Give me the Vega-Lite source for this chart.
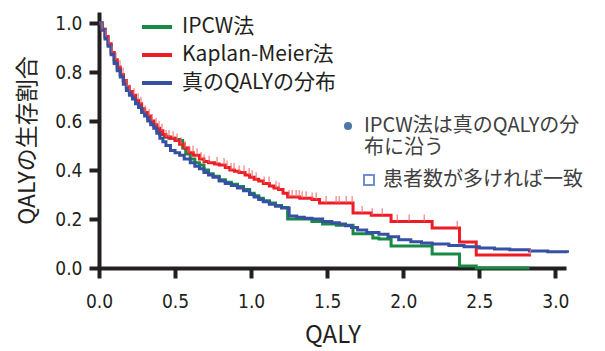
{
  "$schema": "https://vega.github.io/schema/vega-lite/v6.json",
  "width": 467,
  "height": 256,
  "autosize": {"type": "none"},
  "padding": {"left": 99, "top": 12, "right": 39, "bottom": 83},
  "background": "white",
  "config": {
    "view": {"stroke": null},
    "font": "Noto Sans CJK JP",
    "axis": {
      "grid": false,
      "domainWidth": 4,
      "domainColor": "#231f20",
      "tickWidth": 4,
      "tickSize": 10,
      "tickColor": "#231f20",
      "labelFont": "Liberation Sans Narrow, DejaVu Sans Condensed, sans-serif",
      "labelFontSize": 19,
      "labelColor": "#231f20",
      "labelFlush": false,
      "labelOverlap": false,
      "titleFont": "Noto Sans CJK JP",
      "titleFontWeight": "normal",
      "titleColor": "#231f20"
    }
  },
  "datasets": {
    "curves": [
      {"method": "IPCW法", "qaly": 0, "surv": 1.0},
      {"method": "IPCW法", "qaly": 0.02, "surv": 0.975},
      {"method": "IPCW法", "qaly": 0.04, "surv": 0.94},
      {"method": "IPCW法", "qaly": 0.06, "surv": 0.91},
      {"method": "IPCW法", "qaly": 0.08, "surv": 0.875},
      {"method": "IPCW法", "qaly": 0.10, "surv": 0.84},
      {"method": "IPCW法", "qaly": 0.12, "surv": 0.81},
      {"method": "IPCW法", "qaly": 0.14, "surv": 0.785},
      {"method": "IPCW法", "qaly": 0.16, "surv": 0.76},
      {"method": "IPCW法", "qaly": 0.18, "surv": 0.735},
      {"method": "IPCW法", "qaly": 0.20, "surv": 0.715},
      {"method": "IPCW法", "qaly": 0.22, "surv": 0.70},
      {"method": "IPCW法", "qaly": 0.24, "surv": 0.68},
      {"method": "IPCW法", "qaly": 0.26, "surv": 0.665},
      {"method": "IPCW法", "qaly": 0.28, "surv": 0.645},
      {"method": "IPCW法", "qaly": 0.30, "surv": 0.63},
      {"method": "IPCW法", "qaly": 0.32, "surv": 0.61},
      {"method": "IPCW法", "qaly": 0.34, "surv": 0.595},
      {"method": "IPCW法", "qaly": 0.36, "surv": 0.58},
      {"method": "IPCW法", "qaly": 0.38, "surv": 0.56},
      {"method": "IPCW法", "qaly": 0.40, "surv": 0.545},
      {"method": "IPCW法", "qaly": 0.43, "surv": 0.535},
      {"method": "IPCW法", "qaly": 0.46, "surv": 0.53},
      {"method": "IPCW法", "qaly": 0.50, "surv": 0.525},
      {"method": "IPCW法", "qaly": 0.53, "surv": 0.52},
      {"method": "IPCW法", "qaly": 0.55, "surv": 0.49},
      {"method": "IPCW法", "qaly": 0.57, "surv": 0.465},
      {"method": "IPCW法", "qaly": 0.60, "surv": 0.445},
      {"method": "IPCW法", "qaly": 0.63, "surv": 0.43},
      {"method": "IPCW法", "qaly": 0.66, "surv": 0.42},
      {"method": "IPCW法", "qaly": 0.69, "surv": 0.40},
      {"method": "IPCW法", "qaly": 0.72, "surv": 0.385},
      {"method": "IPCW法", "qaly": 0.75, "surv": 0.375},
      {"method": "IPCW法", "qaly": 0.79, "surv": 0.36},
      {"method": "IPCW法", "qaly": 0.83, "surv": 0.35},
      {"method": "IPCW法", "qaly": 0.87, "surv": 0.342},
      {"method": "IPCW法", "qaly": 0.91, "surv": 0.333},
      {"method": "IPCW法", "qaly": 0.95, "surv": 0.32},
      {"method": "IPCW法", "qaly": 0.99, "surv": 0.305},
      {"method": "IPCW法", "qaly": 1.02, "surv": 0.295},
      {"method": "IPCW法", "qaly": 1.05, "surv": 0.285},
      {"method": "IPCW法", "qaly": 1.08, "surv": 0.275},
      {"method": "IPCW法", "qaly": 1.12, "surv": 0.265},
      {"method": "IPCW法", "qaly": 1.16, "surv": 0.255},
      {"method": "IPCW法", "qaly": 1.20, "surv": 0.247},
      {"method": "IPCW法", "qaly": 1.24, "surv": 0.20},
      {"method": "IPCW法", "qaly": 1.40, "surv": 0.19},
      {"method": "IPCW法", "qaly": 1.47, "surv": 0.18},
      {"method": "IPCW法", "qaly": 1.56, "surv": 0.175},
      {"method": "IPCW法", "qaly": 1.67, "surv": 0.14},
      {"method": "IPCW法", "qaly": 1.80, "surv": 0.122},
      {"method": "IPCW法", "qaly": 1.84, "surv": 0.118},
      {"method": "IPCW法", "qaly": 1.92, "surv": 0.09},
      {"method": "IPCW法", "qaly": 2.19, "surv": 0.057},
      {"method": "IPCW法", "qaly": 2.37, "surv": 0.008},
      {"method": "IPCW法", "qaly": 2.48, "surv": 0.0},
      {"method": "IPCW法", "qaly": 2.83, "surv": 0.0},

      {"method": "Kaplan-Meier法", "qaly": 0, "surv": 1.0},
      {"method": "Kaplan-Meier法", "qaly": 0.02, "surv": 0.975},
      {"method": "Kaplan-Meier法", "qaly": 0.04, "surv": 0.945},
      {"method": "Kaplan-Meier法", "qaly": 0.06, "surv": 0.915},
      {"method": "Kaplan-Meier法", "qaly": 0.08, "surv": 0.88},
      {"method": "Kaplan-Meier法", "qaly": 0.10, "surv": 0.85},
      {"method": "Kaplan-Meier法", "qaly": 0.12, "surv": 0.82},
      {"method": "Kaplan-Meier法", "qaly": 0.14, "surv": 0.79},
      {"method": "Kaplan-Meier法", "qaly": 0.16, "surv": 0.765},
      {"method": "Kaplan-Meier法", "qaly": 0.18, "surv": 0.74},
      {"method": "Kaplan-Meier法", "qaly": 0.20, "surv": 0.72},
      {"method": "Kaplan-Meier法", "qaly": 0.22, "surv": 0.705},
      {"method": "Kaplan-Meier法", "qaly": 0.24, "surv": 0.685},
      {"method": "Kaplan-Meier法", "qaly": 0.26, "surv": 0.67},
      {"method": "Kaplan-Meier法", "qaly": 0.28, "surv": 0.65},
      {"method": "Kaplan-Meier法", "qaly": 0.30, "surv": 0.635},
      {"method": "Kaplan-Meier法", "qaly": 0.32, "surv": 0.62},
      {"method": "Kaplan-Meier法", "qaly": 0.34, "surv": 0.60},
      {"method": "Kaplan-Meier法", "qaly": 0.36, "surv": 0.585},
      {"method": "Kaplan-Meier法", "qaly": 0.38, "surv": 0.57},
      {"method": "Kaplan-Meier法", "qaly": 0.40, "surv": 0.56},
      {"method": "Kaplan-Meier法", "qaly": 0.42, "surv": 0.545},
      {"method": "Kaplan-Meier法", "qaly": 0.44, "surv": 0.535},
      {"method": "Kaplan-Meier法", "qaly": 0.47, "surv": 0.53},
      {"method": "Kaplan-Meier法", "qaly": 0.50, "surv": 0.52},
      {"method": "Kaplan-Meier法", "qaly": 0.53, "surv": 0.505},
      {"method": "Kaplan-Meier法", "qaly": 0.56, "surv": 0.49},
      {"method": "Kaplan-Meier法", "qaly": 0.59, "surv": 0.47},
      {"method": "Kaplan-Meier法", "qaly": 0.62, "surv": 0.46},
      {"method": "Kaplan-Meier法", "qaly": 0.66, "surv": 0.445},
      {"method": "Kaplan-Meier法", "qaly": 0.69, "surv": 0.435},
      {"method": "Kaplan-Meier法", "qaly": 0.72, "surv": 0.43},
      {"method": "Kaplan-Meier法", "qaly": 0.76, "surv": 0.425},
      {"method": "Kaplan-Meier法", "qaly": 0.79, "surv": 0.42},
      {"method": "Kaplan-Meier法", "qaly": 0.83, "surv": 0.41},
      {"method": "Kaplan-Meier法", "qaly": 0.86, "surv": 0.40},
      {"method": "Kaplan-Meier法", "qaly": 0.89, "surv": 0.395},
      {"method": "Kaplan-Meier法", "qaly": 0.92, "surv": 0.39},
      {"method": "Kaplan-Meier法", "qaly": 0.96, "surv": 0.38},
      {"method": "Kaplan-Meier法", "qaly": 0.99, "surv": 0.37},
      {"method": "Kaplan-Meier法", "qaly": 1.02, "surv": 0.362},
      {"method": "Kaplan-Meier法", "qaly": 1.05, "surv": 0.355},
      {"method": "Kaplan-Meier法", "qaly": 1.08, "surv": 0.345},
      {"method": "Kaplan-Meier法", "qaly": 1.12, "surv": 0.335},
      {"method": "Kaplan-Meier法", "qaly": 1.15, "surv": 0.327},
      {"method": "Kaplan-Meier法", "qaly": 1.18, "surv": 0.32},
      {"method": "Kaplan-Meier法", "qaly": 1.21, "surv": 0.305},
      {"method": "Kaplan-Meier法", "qaly": 1.24, "surv": 0.29},
      {"method": "Kaplan-Meier法", "qaly": 1.32, "surv": 0.285},
      {"method": "Kaplan-Meier法", "qaly": 1.40, "surv": 0.28},
      {"method": "Kaplan-Meier法", "qaly": 1.45, "surv": 0.265},
      {"method": "Kaplan-Meier法", "qaly": 1.67, "surv": 0.225},
      {"method": "Kaplan-Meier法", "qaly": 1.79, "surv": 0.215},
      {"method": "Kaplan-Meier法", "qaly": 1.92, "surv": 0.19},
      {"method": "Kaplan-Meier法", "qaly": 2.19, "surv": 0.163},
      {"method": "Kaplan-Meier法", "qaly": 2.37, "surv": 0.106},
      {"method": "Kaplan-Meier法", "qaly": 2.48, "surv": 0.053},
      {"method": "Kaplan-Meier法", "qaly": 2.84, "surv": 0.053},

      {"method": "真のQALYの分布", "qaly": 0, "surv": 1.0},
      {"method": "真のQALYの分布", "qaly": 0.02, "surv": 0.97},
      {"method": "真のQALYの分布", "qaly": 0.04, "surv": 0.935},
      {"method": "真のQALYの分布", "qaly": 0.06, "surv": 0.905},
      {"method": "真のQALYの分布", "qaly": 0.08, "surv": 0.87},
      {"method": "真のQALYの分布", "qaly": 0.10, "surv": 0.835},
      {"method": "真のQALYの分布", "qaly": 0.12, "surv": 0.805},
      {"method": "真のQALYの分布", "qaly": 0.14, "surv": 0.78},
      {"method": "真のQALYの分布", "qaly": 0.16, "surv": 0.75},
      {"method": "真のQALYの分布", "qaly": 0.18, "surv": 0.725},
      {"method": "真のQALYの分布", "qaly": 0.20, "surv": 0.705},
      {"method": "真のQALYの分布", "qaly": 0.22, "surv": 0.69},
      {"method": "真のQALYの分布", "qaly": 0.24, "surv": 0.67},
      {"method": "真のQALYの分布", "qaly": 0.26, "surv": 0.655},
      {"method": "真のQALYの分布", "qaly": 0.28, "surv": 0.635},
      {"method": "真のQALYの分布", "qaly": 0.30, "surv": 0.62},
      {"method": "真のQALYの分布", "qaly": 0.32, "surv": 0.60},
      {"method": "真のQALYの分布", "qaly": 0.34, "surv": 0.585},
      {"method": "真のQALYの分布", "qaly": 0.36, "surv": 0.57},
      {"method": "真のQALYの分布", "qaly": 0.38, "surv": 0.55},
      {"method": "真のQALYの分布", "qaly": 0.40, "surv": 0.53},
      {"method": "真のQALYの分布", "qaly": 0.42, "surv": 0.515},
      {"method": "真のQALYの分布", "qaly": 0.44, "surv": 0.50},
      {"method": "真のQALYの分布", "qaly": 0.47, "surv": 0.48},
      {"method": "真のQALYの分布", "qaly": 0.50, "surv": 0.47},
      {"method": "真のQALYの分布", "qaly": 0.53, "surv": 0.46},
      {"method": "真のQALYの分布", "qaly": 0.56, "surv": 0.445},
      {"method": "真のQALYの分布", "qaly": 0.60, "surv": 0.43},
      {"method": "真のQALYの分布", "qaly": 0.63, "surv": 0.415},
      {"method": "真のQALYの分布", "qaly": 0.66, "surv": 0.405},
      {"method": "真のQALYの分布", "qaly": 0.69, "surv": 0.39},
      {"method": "真のQALYの分布", "qaly": 0.72, "surv": 0.38},
      {"method": "真のQALYの分布", "qaly": 0.75, "surv": 0.37},
      {"method": "真のQALYの分布", "qaly": 0.79, "surv": 0.355},
      {"method": "真のQALYの分布", "qaly": 0.83, "surv": 0.345},
      {"method": "真のQALYの分布", "qaly": 0.87, "surv": 0.337},
      {"method": "真のQALYの分布", "qaly": 0.91, "surv": 0.327},
      {"method": "真のQALYの分布", "qaly": 0.95, "surv": 0.315},
      {"method": "真のQALYの分布", "qaly": 0.99, "surv": 0.30},
      {"method": "真のQALYの分布", "qaly": 1.02, "surv": 0.29},
      {"method": "真のQALYの分布", "qaly": 1.05, "surv": 0.28},
      {"method": "真のQALYの分布", "qaly": 1.08, "surv": 0.27},
      {"method": "真のQALYの分布", "qaly": 1.12, "surv": 0.26},
      {"method": "真のQALYの分布", "qaly": 1.16, "surv": 0.252},
      {"method": "真のQALYの分布", "qaly": 1.20, "surv": 0.245},
      {"method": "真のQALYの分布", "qaly": 1.25, "surv": 0.212},
      {"method": "真のQALYの分布", "qaly": 1.30, "surv": 0.207},
      {"method": "真のQALYの分布", "qaly": 1.35, "surv": 0.203},
      {"method": "真のQALYの分布", "qaly": 1.40, "surv": 0.20},
      {"method": "真のQALYの分布", "qaly": 1.47, "surv": 0.19},
      {"method": "真のQALYの分布", "qaly": 1.53, "surv": 0.185},
      {"method": "真のQALYの分布", "qaly": 1.58, "surv": 0.18},
      {"method": "真のQALYの分布", "qaly": 1.62, "surv": 0.172},
      {"method": "真のQALYの分布", "qaly": 1.66, "surv": 0.165},
      {"method": "真のQALYの分布", "qaly": 1.70, "surv": 0.155},
      {"method": "真のQALYの分布", "qaly": 1.76, "surv": 0.145},
      {"method": "真のQALYの分布", "qaly": 1.84, "surv": 0.138},
      {"method": "真のQALYの分布", "qaly": 1.90, "surv": 0.128},
      {"method": "真のQALYの分布", "qaly": 1.97, "surv": 0.115},
      {"method": "真のQALYの分布", "qaly": 2.05, "surv": 0.107},
      {"method": "真のQALYの分布", "qaly": 2.12, "surv": 0.102},
      {"method": "真のQALYの分布", "qaly": 2.19, "surv": 0.098},
      {"method": "真のQALYの分布", "qaly": 2.30, "surv": 0.092},
      {"method": "真のQALYの分布", "qaly": 2.40, "surv": 0.087},
      {"method": "真のQALYの分布", "qaly": 2.50, "surv": 0.082},
      {"method": "真のQALYの分布", "qaly": 2.60, "surv": 0.078},
      {"method": "真のQALYの分布", "qaly": 2.70, "surv": 0.074},
      {"method": "真のQALYの分布", "qaly": 2.83, "surv": 0.069},
      {"method": "真のQALYの分布", "qaly": 2.95, "surv": 0.066},
      {"method": "真のQALYの分布", "qaly": 3.08, "surv": 0.062}
    ],
    "censor": [
      {"qaly": 0.02, "surv": 0.975}, {"qaly": 0.046, "surv": 0.945}, {"qaly": 0.066, "surv": 0.915},
      {"qaly": 0.086, "surv": 0.88}, {"qaly": 0.112, "surv": 0.85}, {"qaly": 0.138, "surv": 0.82},
      {"qaly": 0.158, "surv": 0.79}, {"qaly": 0.184, "surv": 0.74}, {"qaly": 0.204, "surv": 0.72},
      {"qaly": 0.23, "surv": 0.705}, {"qaly": 0.257, "surv": 0.685}, {"qaly": 0.276, "surv": 0.67},
      {"qaly": 0.303, "surv": 0.635}, {"qaly": 0.329, "surv": 0.62}, {"qaly": 0.349, "surv": 0.60},
      {"qaly": 0.375, "surv": 0.585}, {"qaly": 0.395, "surv": 0.57}, {"qaly": 0.414, "surv": 0.56},
      {"qaly": 0.441, "surv": 0.535}, {"qaly": 0.46, "surv": 0.535}, {"qaly": 0.487, "surv": 0.53},
      {"qaly": 0.513, "surv": 0.52}, {"qaly": 0.539, "surv": 0.505}, {"qaly": 0.566, "surv": 0.49},
      {"qaly": 0.592, "surv": 0.47}, {"qaly": 0.618, "surv": 0.47}, {"qaly": 0.645, "surv": 0.46},
      {"qaly": 0.671, "surv": 0.445}, {"qaly": 0.691, "surv": 0.435}, {"qaly": 0.724, "surv": 0.43},
      {"qaly": 0.776, "surv": 0.425}, {"qaly": 0.822, "surv": 0.42}, {"qaly": 0.842, "surv": 0.41},
      {"qaly": 0.868, "surv": 0.40}, {"qaly": 0.888, "surv": 0.40}, {"qaly": 0.921, "surv": 0.39},
      {"qaly": 0.954, "surv": 0.39}, {"qaly": 0.987, "surv": 0.38}, {"qaly": 1.007, "surv": 0.37},
      {"qaly": 1.033, "surv": 0.362}, {"qaly": 1.086, "surv": 0.345}, {"qaly": 1.118, "surv": 0.345},
      {"qaly": 1.164, "surv": 0.327}, {"qaly": 1.184, "surv": 0.32}, {"qaly": 1.25, "surv": 0.29},
      {"qaly": 1.27, "surv": 0.29}, {"qaly": 1.296, "surv": 0.29}, {"qaly": 1.316, "surv": 0.29},
      {"qaly": 1.336, "surv": 0.285}, {"qaly": 1.362, "surv": 0.285}, {"qaly": 1.401, "surv": 0.28},
      {"qaly": 1.428, "surv": 0.28}, {"qaly": 1.493, "surv": 0.265}, {"qaly": 1.559, "surv": 0.265},
      {"qaly": 1.579, "surv": 0.265}, {"qaly": 1.625, "surv": 0.265}, {"qaly": 1.664, "surv": 0.265},
      {"qaly": 1.73, "surv": 0.225}, {"qaly": 1.796, "surv": 0.215}, {"qaly": 1.862, "surv": 0.215},
      {"qaly": 1.961, "surv": 0.19}, {"qaly": 2.039, "surv": 0.19}, {"qaly": 2.138, "surv": 0.19},
      {"qaly": 2.355, "surv": 0.163}, {"qaly": 2.836, "surv": 0.053}
    ],
    "note1": [{"note": "IPCW法は真のQALYの分布に沿う"}],
    "note2": [{"note": "患者数が多ければ一致"}]
  },
  "layer": [
    {
      "data": {"name": "curves"},
      "mark": {"type": "line", "interpolate": "step-after", "strokeWidth": 3},
      "encoding": {
        "x": {
          "field": "qaly", "type": "quantitative",
          "scale": {"domain": [0, 3.07], "nice": false, "zero": false},
          "axis": {"values": [0, 0.5, 1, 1.5, 2, 2.5, 3], "format": ".1f", "title": "QALY", "labelPadding": 14, "titlePadding": 12, "titleFontSize": 24}
        },
        "y": {
          "field": "surv", "type": "quantitative",
          "scale": {"domain": [0, 1.045], "nice": false},
          "axis": {"values": [0, 0.2, 0.4, 0.6, 0.8, 1.0], "format": ".1f", "title": "QALYの生存割合", "labelPadding": 7, "titlePadding": 15, "titleFontSize": 23}
        },
        "color": {
          "field": "method", "type": "nominal",
          "scale": {"domain": ["IPCW法", "Kaplan-Meier法", "真のQALYの分布"], "range": ["#178a44", "#ee1d25", "#3650a3"]},
          "legend": {
            "orient": "none", "legendX": 41, "legendY": -2, "title": null,
            "padding": 0, "symbolType": "stroke", "symbolSize": 900, "symbolStrokeWidth": 4,
            "labelFont": "Noto Sans CJK JP", "labelColor": "#231f20", "labelLimit": 400,
            "labelFontSize": 21,
            "labelOffset": 8, "rowPadding": 1
          }
        }
      }
    },
    {
      "data": {"name": "censor"},
      "mark": {"type": "rule", "color": "#f06a6a", "strokeWidth": 1.3, "opacity": 0.8, "y2Offset": -7},
      "encoding": {
        "x": {"field": "qaly", "type": "quantitative"},
        "y": {"field": "surv", "type": "quantitative"},
        "y2": {"field": "surv"}
      }
    },
    {
      "data": {"name": "note1"},
      "mark": {"type": "point", "filled": true, "opacity": 0},
      "encoding": {
        "shape": {
          "field": "note", "type": "nominal",
          "scale": {"range": ["circle"]},
          "legend": {
            "orient": "none", "legendX": 239, "legendY": 104, "title": null, "padding": 0,
            "symbolSize": 64, "symbolFillColor": "#6e90d0", "symbolStrokeColor": "#6e90d0", "symbolStrokeWidth": 0, "symbolOpacity": 1,
            "labelFont": "Noto Sans CJK JP", "labelFontSize": 20, "labelColor": "#404040", "labelOffset": 6, "labelLimit": 400,
            "labelExpr": "[slice(datum.label, 0, 14), slice(datum.label, 14)]"
          }
        }
      }
    },
    {
      "data": {"name": "note2"},
      "mark": {"type": "point", "filled": false, "opacity": 0},
      "encoding": {
        "shape": {
          "field": "note", "type": "nominal",
          "scale": {"range": ["square"]},
          "legend": {
            "orient": "none", "legendX": 260, "legendY": 158, "title": null, "padding": 0,
            "symbolSize": 100, "symbolFillColor": "white", "symbolStrokeColor": "#6e90d0", "symbolStrokeWidth": 2, "symbolOpacity": 1,
            "labelFont": "Noto Sans CJK JP", "labelFontSize": 20, "labelColor": "#404040", "labelOffset": 4, "labelLimit": 400
          }
        }
      }
    }
  ],
  "resolve": {"scale": {"shape": "independent"}, "legend": {"shape": "independent"}}
}
